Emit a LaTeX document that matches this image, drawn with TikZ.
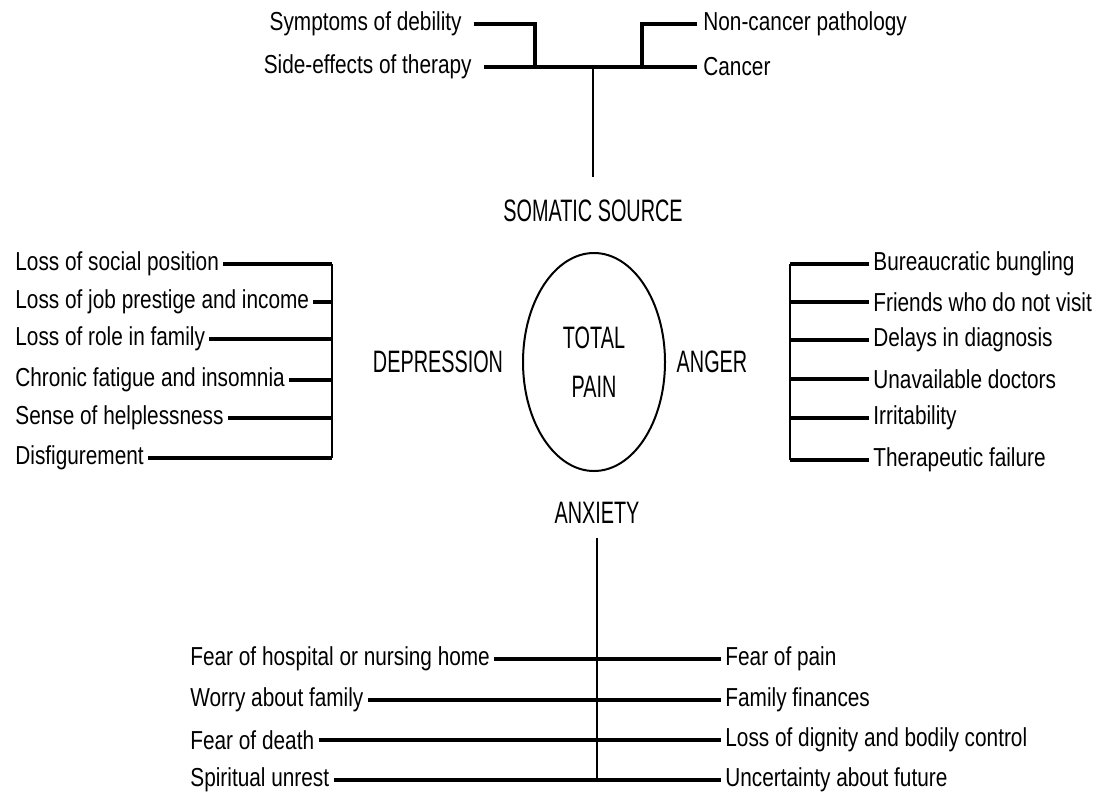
\documentclass[tikz,border=0pt]{standalone}
\usepackage{fontspec}
\setmainfont[FakeStretch=0.8]{Liberation Sans}
\newfontfamily\capsfont[FakeStretch=0.64]{Liberation Sans}
\usetikzlibrary{shapes.geometric}

\begin{document}
\begin{tikzpicture}[x=0.5pt,y=-0.5pt]
\tikzstyle{every node}+=[inner sep=2pt]
\tikzstyle{lbl}=[font=\fontsize{13}{15}\selectfont]
\tikzstyle{capslbl}=[font=\capsfont\fontsize{15.5}{18}\selectfont]
\tikzstyle{bar}=[line width=2pt]
\tikzstyle{spine}=[line width=1.3pt]
\useasboundingbox (0,0) rectangle (1106,798);
\node[lbl,anchor=east,inner xsep=6pt] (sym) at (474,24) {Symptoms of debility};
\node[lbl,anchor=east,inner xsep=6pt] (side) at (484,67) {Side-effects of therapy};
\node[lbl,anchor=west,inner xsep=3pt] (noncan) at (697,24) {Non-cancer pathology};
\node[lbl,anchor=west,inner xsep=3pt] (cancer) at (697,67) {Cancer};
\coordinate (symj) at (535,67);
\coordinate (noncj) at (642,67);
\coordinate (somj) at (593,67);
\coordinate (somb) at (593,177);
\draw[bar] (side.east) -- (cancer.west);
\draw[bar] (sym.east) -| (symj);
\draw[bar] (noncan.west) -| (noncj);
\draw[spine] (somj) -- (somb);
\node[capslbl] (somatic) at (593,211) {SOMATIC SOURCE};
\node[draw,ellipse,line width=1pt,minimum width=71pt,minimum height=109pt,inner sep=0pt,capslbl,align=center] (total) at (594,362) {TOTAL\\[6.5pt]PAIN};
\node[capslbl] (dep) at (438,362) {DEPRESSION};
\node[capslbl] (anger) at (712,362) {ANGER};
\node[capslbl] (anx) at (597,513) {ANXIETY};
\node[lbl,anchor=west] (soc) at (11,264) {Loss of social position};
\node[lbl,anchor=west] (job) at (11,302) {Loss of job prestige and income};
\node[lbl,anchor=west] (role) at (11,339) {Loss of role in family};
\node[lbl,anchor=west] (fat) at (11,380) {Chronic fatigue and insomnia};
\node[lbl,anchor=west] (help) at (11,418) {Sense of helplessness};
\node[lbl,anchor=west] (disf) at (11,458) {Disfigurement};
\coordinate (depbar) at (332,0);
\draw[spine] (soc.east -| depbar) -- (disf.east -| depbar);
\draw[bar] (soc.east) -- (soc.east -| depbar);
\draw[bar] (job.east) -- (job.east -| depbar);
\draw[bar] (role.east) -- (role.east -| depbar);
\draw[bar] (fat.east) -- (fat.east -| depbar);
\draw[bar] (help.east) -- (help.east -| depbar);
\draw[bar] (disf.east) -- (disf.east -| depbar);
\node[lbl,anchor=west] (bur) at (869,264) {Bureaucratic bungling};
\node[lbl,anchor=west] (fri) at (869,302) {Friends who do not visit};
\node[lbl,anchor=west] (del) at (869,340) {Delays in diagnosis};
\node[lbl,anchor=west] (doc) at (869,379) {Unavailable doctors};
\node[lbl,anchor=west] (irr) at (869,418) {Irritability};
\node[lbl,anchor=west] (ther) at (869,460) {Therapeutic failure};
\coordinate (angbar) at (790,0);
\draw[spine] (bur.west -| angbar) -- (ther.west -| angbar);
\draw[bar] (bur.west -| angbar) -- (bur.west);
\draw[bar] (fri.west -| angbar) -- (fri.west);
\draw[bar] (del.west -| angbar) -- (del.west);
\draw[bar] (doc.west -| angbar) -- (doc.west);
\draw[bar] (irr.west -| angbar) -- (irr.west);
\draw[bar] (ther.west -| angbar) -- (ther.west);
\node[lbl,anchor=west] (hosp) at (186,659) {Fear of hospital or nursing home};
\node[lbl,anchor=west] (worry) at (186,700) {Worry about family};
\node[lbl,anchor=west] (death) at (186,740) {Fear of death};
\node[lbl,anchor=west] (spirit) at (186,780) {Spiritual unrest};
\node[lbl,anchor=west] (fpain) at (721,659) {Fear of pain};
\node[lbl,anchor=west] (fin) at (721,700) {Family finances};
\node[lbl,anchor=west] (dig) at (721,740) {Loss of dignity and bodily control};
\node[lbl,anchor=west] (unc) at (721,780) {Uncertainty about future};
\coordinate (anxb) at (597,538);
\draw[spine] (anxb) -- (anxb |- unc.west);
\draw[bar] (hosp.east) -- (fpain.west);
\draw[bar] (worry.east) -- (fin.west);
\draw[bar] (death.east) -- (dig.west);
\draw[bar] (spirit.east) -- (unc.west);
\end{tikzpicture}
\end{document}
